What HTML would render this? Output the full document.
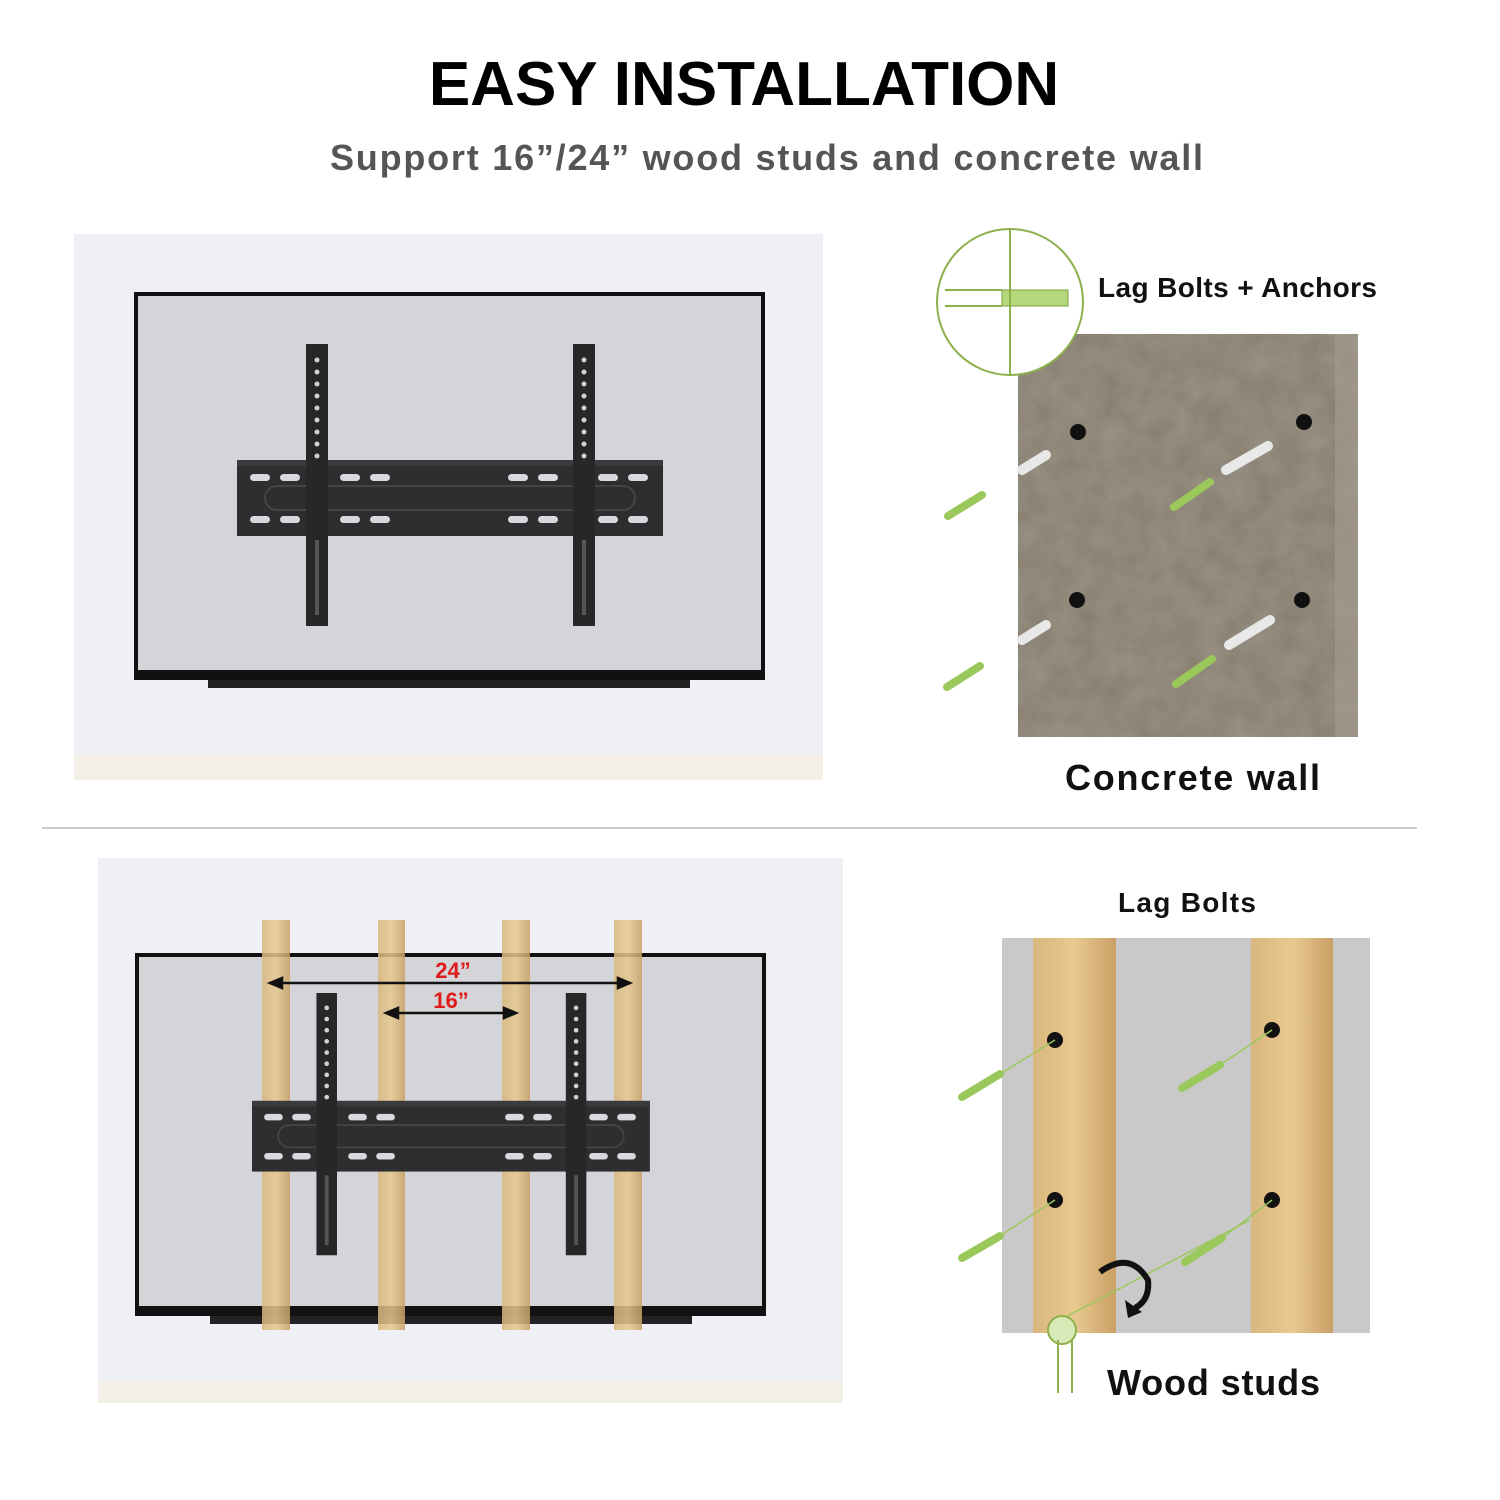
<!DOCTYPE html>
<html><head><style>
html,body{margin:0;padding:0;background:#fff;}
svg{display:block}
text{font-family:"Liberation Sans",sans-serif;font-weight:bold}
</style></head><body>
<svg width="1500" height="1500" viewBox="0 0 1500 1500" xmlns="http://www.w3.org/2000/svg">
<defs>
<filter id="grain"><feTurbulence type="fractalNoise" baseFrequency="0.04" numOctaves="4" seed="3"/><feColorMatrix values="0 0 0 0 0.4  0 0 0 0 0.37  0 0 0 0 0.31  0 0 0 0.6 0"/><feComposite in2="SourceGraphic" operator="in"/></filter>
<linearGradient id="wood" x1="0" x2="1"><stop offset="0" stop-color="#d9b77e"/><stop offset="0.5" stop-color="#e8c98f"/><stop offset="1" stop-color="#c9a066"/></linearGradient>
<g id="mount">
  <rect x="237" y="460" width="426" height="76" fill="#2d2e30"/>
  <rect x="237" y="460" width="426" height="6" fill="#3a3b3d"/>
  <rect x="265" y="486" width="370" height="24" rx="12" fill="none" stroke="#444" stroke-width="2"/>
  <g fill="#d8d9dc">
    <rect x="250" y="474" width="20" height="7" rx="3.5"/><rect x="280" y="474" width="20" height="7" rx="3.5"/><rect x="340" y="474" width="20" height="7" rx="3.5"/><rect x="370" y="474" width="20" height="7" rx="3.5"/>
    <rect x="508" y="474" width="20" height="7" rx="3.5"/><rect x="538" y="474" width="20" height="7" rx="3.5"/><rect x="598" y="474" width="20" height="7" rx="3.5"/><rect x="628" y="474" width="20" height="7" rx="3.5"/>
    <rect x="250" y="516" width="20" height="7" rx="3.5"/><rect x="280" y="516" width="20" height="7" rx="3.5"/><rect x="340" y="516" width="20" height="7" rx="3.5"/><rect x="370" y="516" width="20" height="7" rx="3.5"/>
    <rect x="508" y="516" width="20" height="7" rx="3.5"/><rect x="538" y="516" width="20" height="7" rx="3.5"/><rect x="598" y="516" width="20" height="7" rx="3.5"/><rect x="628" y="516" width="20" height="7" rx="3.5"/>
  </g>
  <rect x="306" y="344" width="22" height="282" fill="#262729"/>
  <rect x="573" y="344" width="22" height="282" fill="#262729"/>
  <g fill="#d0d1d4">
    <circle cx="317" cy="360" r="2.5"/><circle cx="317" cy="372" r="2.5"/><circle cx="317" cy="384" r="2.5"/><circle cx="317" cy="396" r="2.5"/><circle cx="317" cy="408" r="2.5"/><circle cx="317" cy="420" r="2.5"/><circle cx="317" cy="432" r="2.5"/><circle cx="317" cy="444" r="2.5"/><circle cx="317" cy="456" r="2.5"/>
    <circle cx="584" cy="360" r="2.5"/><circle cx="584" cy="372" r="2.5"/><circle cx="584" cy="384" r="2.5"/><circle cx="584" cy="396" r="2.5"/><circle cx="584" cy="408" r="2.5"/><circle cx="584" cy="420" r="2.5"/><circle cx="584" cy="432" r="2.5"/><circle cx="584" cy="444" r="2.5"/><circle cx="584" cy="456" r="2.5"/>
  </g>
  <rect x="315" y="540" width="4" height="75" fill="#555"/><rect x="582" y="540" width="4" height="75" fill="#555"/>
</g>
</defs>

<text x="744" y="105" font-size="62" text-anchor="middle" fill="#000">EASY INSTALLATION</text>
<text x="330" y="170" font-size="36" fill="#555" textLength="873" lengthAdjust="spacing">Support  16”/24”  wood  studs and concrete wall</text>

<!-- top left photo -->
<rect x="74" y="234" width="749" height="546" fill="#eef0f5"/>
<rect x="74" y="755" width="749" height="25" fill="#f3efe6"/>
<rect x="134" y="292" width="631" height="388" fill="#111"/>
<rect x="138" y="296" width="623" height="374" fill="#d3d5d9"/>
<rect x="208" y="680" width="482" height="8" fill="#222"/>
<use href="#mount"/>

<!-- concrete -->
<rect x="1018" y="334" width="340" height="403" fill="#857c6d"/>
<rect x="1018" y="334" width="340" height="403" fill="#000" filter="url(#grain)"/>
<rect x="1335" y="334" width="23" height="403" fill="#a59d90" opacity="0.6"/>
<circle cx="1010" cy="302" r="73" fill="#fff" stroke="#8cb04a" stroke-width="2"/>
<rect x="1002" y="290" width="66" height="16" fill="#b5d77c" stroke="#7aa03a"/>
<line x1="945" y1="290" x2="1002" y2="290" stroke="#8cb04a" stroke-width="2"/>
<line x1="945" y1="306" x2="1002" y2="306" stroke="#8cb04a" stroke-width="2"/>
<line x1="1010" y1="229" x2="1010" y2="375" stroke="#8cb04a" stroke-width="2"/>
<g fill="#111"><circle cx="1078" cy="432" r="8"/><circle cx="1304" cy="422" r="8"/><circle cx="1077" cy="600" r="8"/><circle cx="1302" cy="600" r="8"/></g>
<g stroke="#9bc85a" stroke-width="8" stroke-linecap="round">
<line x1="948" y1="516" x2="982" y2="495"/><line x1="947" y1="687" x2="980" y2="666"/>
<line x1="1174" y1="507" x2="1210" y2="482"/><line x1="1176" y1="684" x2="1212" y2="659"/>
</g>
<g stroke="#e8e8e8" stroke-width="10" stroke-linecap="round">
<line x1="1226" y1="470" x2="1268" y2="446"/><line x1="1229" y1="645" x2="1270" y2="620"/>
<line x1="1022" y1="470" x2="1046" y2="455"/><line x1="1022" y1="640" x2="1046" y2="625"/>
</g>
<text x="1098" y="297" font-size="28" fill="#111" textLength="279" lengthAdjust="spacing">Lag Bolts + Anchors</text>
<text x="1065" y="790" font-size="36" fill="#111" textLength="255" lengthAdjust="spacing">Concrete wall</text>

<line x1="42" y1="828" x2="1417" y2="828" stroke="#ccc" stroke-width="2"/>

<!-- bottom left photo -->
<rect x="98" y="858" width="745" height="545" fill="#eef0f5"/>
<rect x="98" y="1380" width="745" height="23" fill="#f3efe6"/>
<rect x="135" y="953" width="631" height="363" fill="#111"/>
<rect x="139" y="957" width="623" height="349" fill="#d3d5d9"/>
<rect x="210" y="1316" width="482" height="8" fill="#222"/>
<g opacity="0.85" fill="url(#wood)">
<rect x="262" y="920" width="28" height="410"/><rect x="378" y="920" width="27" height="410"/>
<rect x="502" y="920" width="28" height="410"/><rect x="614" y="920" width="28" height="410"/>
</g>
<use href="#mount" transform="translate(252,993) scale(0.934,0.93) translate(-237,-344)"/>
<g stroke="#111" stroke-width="2.5" fill="#111">
<line x1="280" y1="983" x2="620" y2="983"/><polygon points="270,983 282,978 282,988" /><polygon points="630,983 618,978 618,988"/>
<line x1="396" y1="1013" x2="506" y2="1013"/><polygon points="386,1013 398,1008 398,1018"/><polygon points="516,1013 504,1008 504,1018"/>
</g>
<text x="453" y="978" font-size="22" text-anchor="middle" fill="#e01b1b">24”</text>
<text x="451" y="1008" font-size="22" text-anchor="middle" fill="#e01b1b">16”</text>

<!-- wood studs right -->
<rect x="1002" y="938" width="368" height="395" fill="#c9c9ca"/>
<rect x="1033" y="938" width="83" height="395" fill="url(#wood)"/>
<rect x="1251" y="938" width="82" height="395" fill="url(#wood)"/>
<g fill="#111"><circle cx="1055" cy="1040" r="8"/><circle cx="1272" cy="1030" r="8"/><circle cx="1055" cy="1200" r="8"/><circle cx="1272" cy="1200" r="8"/></g>
<g stroke="#9bc85a" stroke-width="8" stroke-linecap="round">
<line x1="962" y1="1097" x2="1000" y2="1074"/><line x1="1182" y1="1088" x2="1220" y2="1065"/>
<line x1="962" y1="1258" x2="1000" y2="1236"/><line x1="1185" y1="1262" x2="1222" y2="1238"/>
</g>
<g stroke="#9bc85a" stroke-width="1.5"><line x1="1000" y1="1074" x2="1055" y2="1040"/><line x1="1220" y1="1065" x2="1272" y2="1030"/><line x1="1000" y1="1236" x2="1055" y2="1200"/><line x1="1222" y1="1238" x2="1272" y2="1200"/><line x1="1060" y1="1320" x2="1250" y2="1220"/></g>
<path d="M1100 1272 Q1130 1250 1148 1280 Q1150 1300 1135 1308" fill="none" stroke="#111" stroke-width="6"/>
<polygon points="1125,1300 1142,1312 1128,1318" fill="#111"/>
<circle cx="1062" cy="1330" r="14" fill="#d8eab8" stroke="#8cb04a" stroke-width="2"/>
<line x1="1058" y1="1340" x2="1058" y2="1393" stroke="#8cb04a" stroke-width="2"/>
<line x1="1072" y1="1340" x2="1072" y2="1393" stroke="#8cb04a" stroke-width="2"/>
<text x="1118" y="912" font-size="28" fill="#111" textLength="138" lengthAdjust="spacing">Lag Bolts</text>
<text x="1107" y="1395" font-size="36" fill="#111" textLength="213" lengthAdjust="spacing">Wood studs</text>
</svg>
</body></html>
